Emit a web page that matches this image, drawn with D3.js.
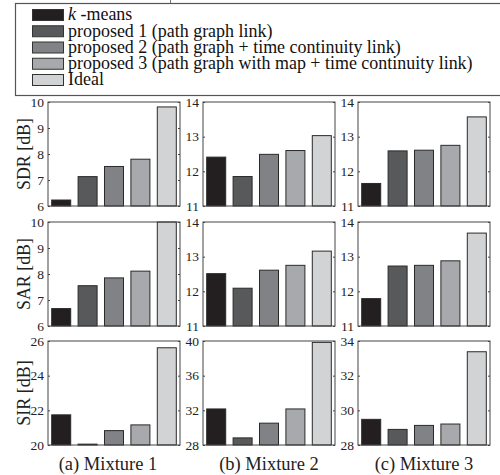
<!DOCTYPE html>
<html>
<head>
<meta charset="utf-8">
<script src="https://cdn.jsdelivr.net/npm/d3@7"></script>
<style>
  html, body { margin: 0; padding: 0; background: #fff; }
  svg text { font-family: 'Liberation Serif', 'Tinos', serif; }
</style>
</head>
<body>
<svg id="chart" width="500" height="475"></svg>
<script>
const methods = [
  'k-means',
  'proposed 1 (path graph link)',
  'proposed 2 (path graph + time continuity link)',
  'proposed 3 (path graph with map + time continuity link)',
  'Ideal'
]
const mixtures = ['(a) Mixture 1', '(b) Mixture 2', '(c) Mixture 3']
const metrics = ['SDR [dB]', 'SAR [dB]', 'SIR [dB]']

// one row per mixture, one value per method
const sdrValues = [
  [6.23, 7.13, 7.52, 7.80, 9.81],
  [12.41, 11.85, 12.49, 12.60, 13.03],
  [11.65, 12.59, 12.61, 12.75, 13.57]
]
const sarValues = [
  [6.67, 7.55, 7.85, 8.11, 10.0],
  [12.51, 12.09, 12.61, 12.75, 13.16],
  [11.79, 12.73, 12.75, 12.88, 13.68]
]
const sirValues = [
  [21.74, 20.05, 20.83, 21.16, 25.61],
  [32.16, 28.82, 30.52, 32.16, 39.84],
  [29.48, 28.90, 29.13, 29.21, 33.38]
]

const sdrTicks = [[6, 7, 8, 9, 10], [11, 12, 13, 14], [11, 12, 13, 14]]
const sarTicks = [[6, 7, 8, 9, 10], [11, 12, 13, 14], [11, 12, 13, 14]]
const sirTicks = [[20, 22, 24, 26], [28, 32, 36, 40], [28, 30, 32, 34]]

const colors = ['#231f20', '#58595b', '#808285', '#a7a9ac', '#d1d3d4']
const serif = "'Liberation Serif', 'Tinos', serif"

const svg = d3.select('#chart')

// shrink a text to a target width if needed
const fitSize = (sel, size, target) => {
  const w = sel.node().getComputedTextLength()
  return w > target ? size * target / w : size
}

// legend
const legend = svg.append('g')
legend.append('rect')
  .attr('x', 15.5).attr('y', 3.5)
  .attr('width', 495).attr('height', 92)
  .attr('fill', 'none')
  .attr('stroke', '#555')
  .attr('stroke-width', 1.2)
legend.append('line')
  .attr('x1', 170.5).attr('x2', 170.5)
  .attr('y1', 0).attr('y2', 3)
  .attr('stroke', '#777')

const legendY = d3.scalePoint()
  .domain(methods)
  .range([15, 80])

// text width matched to the original figure
const legendText = legend.append('g')
const legendTexts = []
methods.forEach((m, i) => {
  const cy = legendY(m)
  legend.append('rect')
    .attr('x', 32.5).attr('y', cy - 5.5)
    .attr('width', 31).attr('height', 11)
    .attr('fill', colors[i])
    .attr('stroke', '#333')
    .attr('stroke-width', 1)
  const t = legendText.append('text')
    .attr('x', 0).attr('y', cy + 5.5)
    .attr('font-size', 18)
    .attr('fill', '#111')
    .style('font-family', serif)
  if (i === 0) {
    t.append('tspan').attr('font-style', 'italic').text('k')
    t.append('tspan').text(' -means')
  }
  else {
    t.text(m)
  }
  legendTexts.push(t)
})
const longest = legendTexts[3].node().getComputedTextLength()
const squeeze = Math.max(0.85, Math.min(1.1, 405 / longest))
legendText.attr('transform', `translate(68,0) scale(${squeeze},1)`)

// panels
const colX = [48, 203, 358]
const rowY = [102, 222, 341]
const panelW = 132
const panelH = 104

const allValues = [sdrValues, sarValues, sirValues]
const allTicks = [sdrTicks, sarTicks, sirTicks]

allValues.forEach((rowValues, r) => {
  rowValues.forEach((values, c) => {
    const x0 = colX[c]
    const y0 = rowY[r]
    const ticks = allTicks[r][c]

    const x = d3.scaleBand()
      .domain(methods)
      .range([x0, x0 + panelW])
      .paddingInner(0.28)
      .paddingOuter(0.14)

    const y = d3.scaleLinear()
      .domain(d3.extent(ticks))
      .range([y0 + panelH, y0])

    const g = svg.append('g')

    g.selectAll('rect.bar')
      .data(values)
      .enter()
      .append('rect')
      .attr('class', 'bar')
      .attr('x', (d, i) => x(methods[i]))
      .attr('y', d => y(d))
      .attr('width', x.bandwidth())
      .attr('height', d => y(y.domain()[0]) - y(d))
      .attr('fill', (d, i) => colors[i])
      .attr('stroke', '#2a2a2a')
      .attr('stroke-width', 1)

    const leftAxis = d3.axisLeft(y)
      .tickValues(ticks)
      .tickFormat(d3.format('d'))
      .tickSizeInner(-2)
      .tickSizeOuter(0)
      .tickPadding(4)
    const rightAxis = d3.axisRight(y)
      .tickValues(ticks)
      .tickSizeInner(-2)
      .tickSizeOuter(0)
      .tickFormat('')

    const la = g.append('g')
      .attr('transform', `translate(${x0},0)`)
      .call(leftAxis)
    la.select('.domain').remove()
    la.selectAll('line').attr('stroke', '#444')
    la.selectAll('text')
      .attr('font-size', 13.5)
      .attr('fill', '#222')
      .style('font-family', serif)

    const ra = g.append('g')
      .attr('transform', `translate(${x0 + panelW},0)`)
      .call(rightAxis)
    ra.select('.domain').remove()
    ra.selectAll('line').attr('stroke', '#444')

    g.append('rect')
      .attr('x', x0).attr('y', y0)
      .attr('width', panelW).attr('height', panelH)
      .attr('fill', 'none')
      .attr('stroke', '#444')
      .attr('stroke-width', 1)

    if (c === 0) {
      const title = g.append('text')
        .attr('transform', `translate(30,${y0 + panelH / 2}) rotate(-90)`)
        .attr('text-anchor', 'middle')
        .attr('font-size', 18)
        .attr('fill', '#222')
        .style('font-family', serif)
        .text(metrics[r])
      title.attr('font-size', fitSize(title, 18, 72))
    }
  })
})

mixtures.forEach((m, c) => {
  const t = svg.append('text')
    .attr('x', colX[c] + panelW / 2 - (c === 0 ? 6 : 0))
    .attr('y', 470)
    .attr('text-anchor', 'middle')
    .attr('font-size', 18.5)
    .attr('fill', '#222')
    .style('font-family', serif)
    .text(m)
  t.attr('font-size', fitSize(t, 18.5, 102))
})
</script>
</body>
</html>
